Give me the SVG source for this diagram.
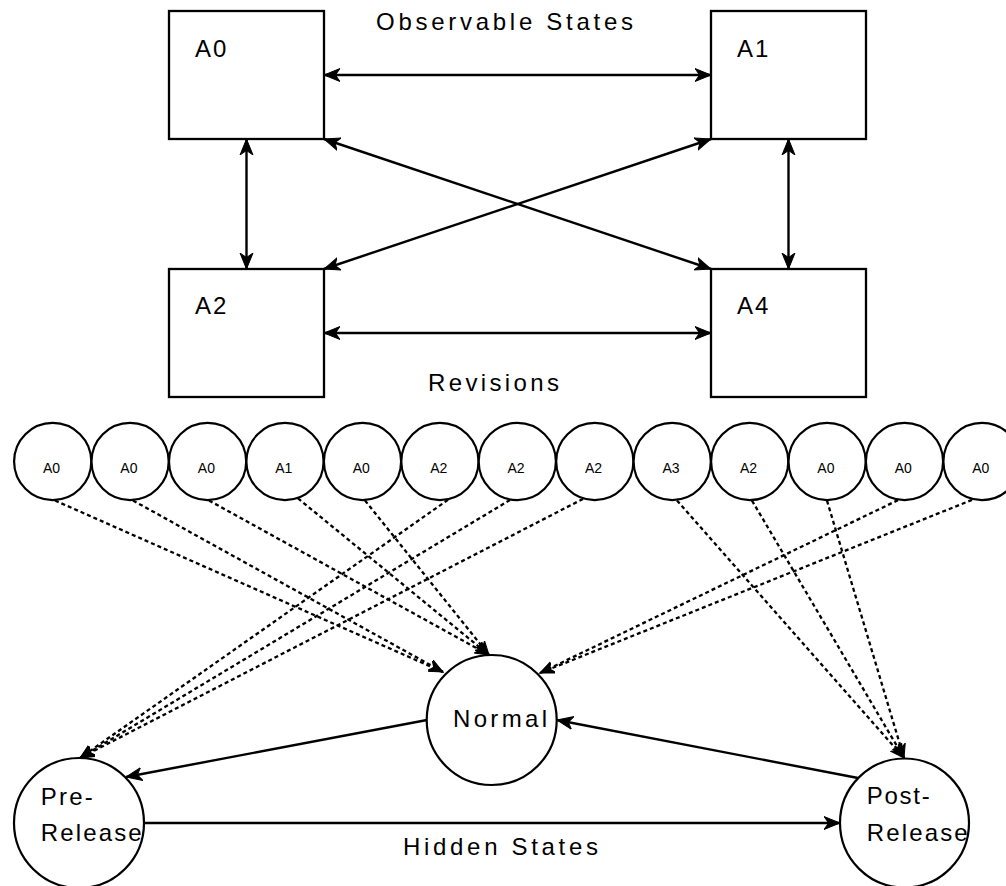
<svg xmlns="http://www.w3.org/2000/svg" width="1006" height="886" viewBox="0 0 1006 886">
<style>
.box{fill:#fff;stroke:#000;stroke-width:2.3}
.c{fill:#fff;stroke:#000;stroke-width:2.2}
.t{font-family:"Liberation Sans",Arial,sans-serif;font-size:24px;fill:#000}
.b{letter-spacing:2px}
.s{font-family:"Liberation Sans",Arial,sans-serif;font-size:14px;fill:#000;text-anchor:middle}
.e{fill:none;stroke:#000;stroke-width:2.4}
.d{fill:none;stroke:#000;stroke-width:2.3;stroke-dasharray:4 3}
</style>
<defs>
<marker id="ah" markerUnits="userSpaceOnUse" markerWidth="18" markerHeight="16" refX="16" refY="8" orient="auto-start-reverse" viewBox="0 0 18 16">
<path d="M0,1.5 L16,8 L0,14.5 L4.5,8 Z" fill="#000" stroke="#000" stroke-width="1"/>
</marker>
<marker id="dh" markerUnits="userSpaceOnUse" markerWidth="16" markerHeight="14" refX="14" refY="7" orient="auto" viewBox="0 0 16 14">
<path d="M0,1.5 L14,7 L0,12.5 L4,7 Z" fill="#000" stroke="#000" stroke-width="1"/>
</marker>
</defs>
<text class="t" x="376" y="30" textLength="257" lengthAdjust="spacing">Observable States</text>
<text class="t" x="428" y="391" textLength="131" lengthAdjust="spacing">Revisions</text>
<text class="t" x="403" y="855" textLength="195" lengthAdjust="spacing">Hidden States</text>
<g id="n-A0"><rect class="box" x="169" y="11" width="155" height="128"/><text class="t b" x="195" y="57">A0</text></g>
<g id="n-A1"><rect class="box" x="711" y="11" width="155" height="128"/><text class="t b" x="737" y="57">A1</text></g>
<g id="n-A2"><rect class="box" x="169" y="269" width="155" height="128"/><text class="t b" x="195" y="314">A2</text></g>
<g id="n-A4"><rect class="box" x="711" y="269" width="155" height="128"/><text class="t b" x="737" y="314">A4</text></g>
<g id="rev0"><circle class="c" cx="52.7" cy="461.5" r="38.6"/><text class="s" x="51.5" y="473">A0</text></g>
<g id="rev1"><circle class="c" cx="130.1" cy="461.5" r="38.6"/><text class="s" x="128.9" y="473">A0</text></g>
<g id="rev2"><circle class="c" cx="207.6" cy="461.5" r="38.6"/><text class="s" x="206.4" y="473">A0</text></g>
<g id="rev3"><circle class="c" cx="285" cy="461.5" r="38.6"/><text class="s" x="283.8" y="473">A1</text></g>
<g id="rev4"><circle class="c" cx="362.5" cy="461.5" r="38.6"/><text class="s" x="361.3" y="473">A0</text></g>
<g id="rev5"><circle class="c" cx="439.9" cy="461.5" r="38.6"/><text class="s" x="438.7" y="473">A2</text></g>
<g id="rev6"><circle class="c" cx="517.3" cy="461.5" r="38.6"/><text class="s" x="516.1" y="473">A2</text></g>
<g id="rev7"><circle class="c" cx="594.8" cy="461.5" r="38.6"/><text class="s" x="593.6" y="473">A2</text></g>
<g id="rev8"><circle class="c" cx="672.2" cy="461.5" r="38.6"/><text class="s" x="671" y="473">A3</text></g>
<g id="rev9"><circle class="c" cx="749.7" cy="461.5" r="38.6"/><text class="s" x="748.5" y="473">A2</text></g>
<g id="rev10"><circle class="c" cx="827.1" cy="461.5" r="38.6"/><text class="s" x="825.9" y="473">A0</text></g>
<g id="rev11"><circle class="c" cx="904.5" cy="461.5" r="38.6"/><text class="s" x="903.3" y="473">A0</text></g>
<g id="rev12"><circle class="c" cx="982" cy="461.5" r="38.6"/><text class="s" x="980.8" y="473">A0</text></g>
<g id="n-normal"><circle class="c" cx="491.7" cy="720" r="65"/><text class="t" x="453" y="727" textLength="94" lengthAdjust="spacing">Normal</text></g>
<g id="n-pre"><circle class="c" cx="79" cy="823" r="65"/><text class="t" x="40.7" y="805" textLength="52" lengthAdjust="spacing">Pre-</text><text class="t" x="40.7" y="841" textLength="101" lengthAdjust="spacing">Release</text></g>
<g id="n-post"><circle class="c" cx="904.5" cy="823" r="64.5"/><text class="t" x="866.7" y="804" textLength="63" lengthAdjust="spacing">Post-</text><text class="t" x="866.7" y="841" textLength="101" lengthAdjust="spacing">Release</text></g>
<g id="connectors">
<line class="e" x1="324" y1="75" x2="711" y2="75" marker-start="url(#ah)" marker-end="url(#ah)"/>
<line class="e" x1="324" y1="333" x2="711" y2="333" marker-start="url(#ah)" marker-end="url(#ah)"/>
<line class="e" x1="246.5" y1="139" x2="246.5" y2="269" marker-start="url(#ah)" marker-end="url(#ah)"/>
<line class="e" x1="788.5" y1="139" x2="788.5" y2="269" marker-start="url(#ah)" marker-end="url(#ah)"/>
<line class="e" x1="324" y1="139" x2="711" y2="269" marker-start="url(#ah)" marker-end="url(#ah)"/>
<line class="e" x1="711" y1="139" x2="324" y2="269" marker-start="url(#ah)" marker-end="url(#ah)"/>
<line class="e" x1="427" y1="720" x2="126" y2="777" marker-end="url(#ah)"/>
<line class="e" x1="858" y1="778" x2="557" y2="720" marker-end="url(#ah)"/>
<line class="e" x1="144" y1="823" x2="840" y2="823" marker-end="url(#ah)"/>
<line class="d" x1="55" y1="500.5" x2="443" y2="672" marker-end="url(#dh)"/>
<line class="d" x1="133" y1="500.5" x2="443" y2="672" marker-end="url(#dh)"/>
<line class="d" x1="209" y1="500.5" x2="489" y2="655" marker-end="url(#dh)"/>
<line class="d" x1="298" y1="498.4" x2="489" y2="655" marker-end="url(#dh)"/>
<line class="d" x1="365" y1="500.5" x2="489" y2="655" marker-end="url(#dh)"/>
<line class="d" x1="448" y1="499.8" x2="80" y2="758" marker-end="url(#dh)"/>
<line class="d" x1="510" y1="500" x2="80" y2="758" marker-end="url(#dh)"/>
<line class="d" x1="583" y1="498.9" x2="80" y2="758" marker-end="url(#dh)"/>
<line class="d" x1="677" y1="500.4" x2="904" y2="758" marker-end="url(#dh)"/>
<line class="d" x1="752" y1="500.6" x2="904" y2="758" marker-end="url(#dh)"/>
<line class="d" x1="827" y1="500.7" x2="904" y2="758" marker-end="url(#dh)"/>
<line class="d" x1="898" y1="500.1" x2="540" y2="673" marker-end="url(#dh)"/>
<line class="d" x1="972" y1="499.9" x2="540" y2="673" marker-end="url(#dh)"/>
</g>
</svg>
